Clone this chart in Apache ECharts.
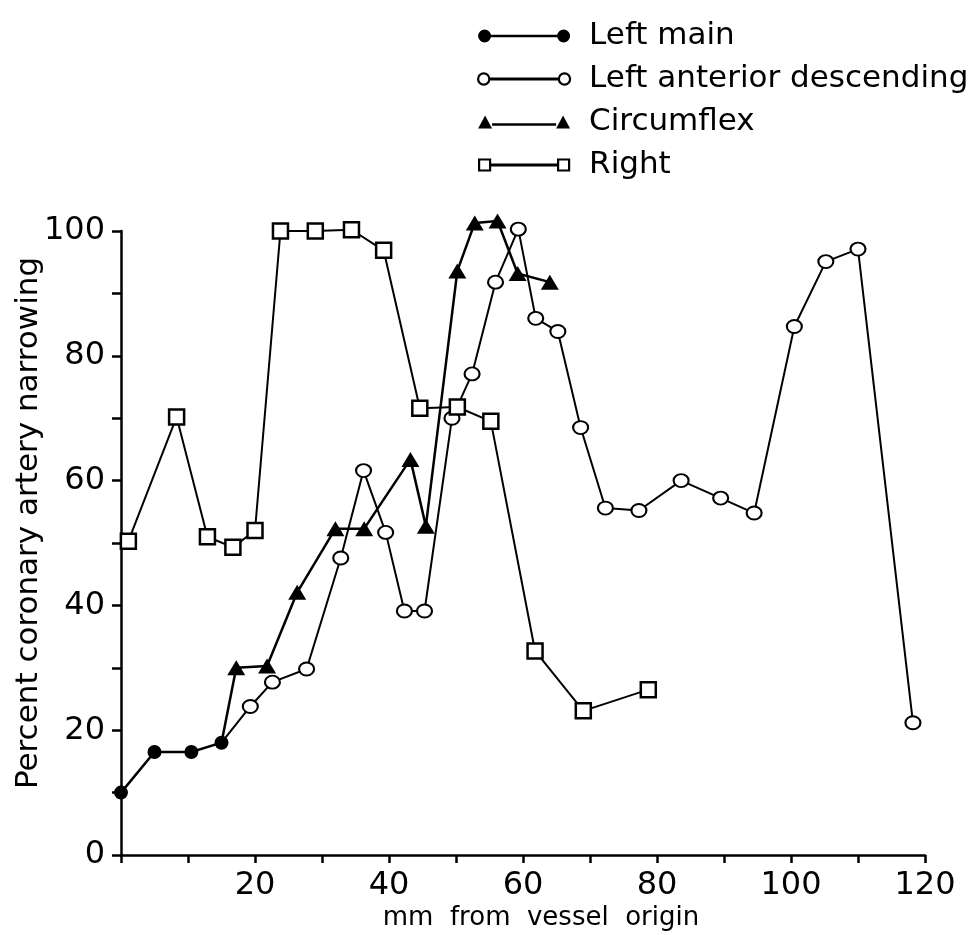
<!DOCTYPE html>
<html>
<head>
<meta charset="utf-8">
<script src="https://cdn.jsdelivr.net/npm/echarts@6/dist/echarts.min.js"></script>
<style>
html,body{margin:0;padding:0;background:#fff;}
#chart{width:972px;height:935px;}
</style>
</head>
<body>
<div id="chart"></div>
<script>
// ---- data ----
const seriesNames = ['Left main', 'Left anterior descending', 'Circumflex', 'Right'];

const leftMainX = [0, 5, 10.5, 15];
const leftMainY = [10, 16.5, 16.5, 18];

const ladX = [19.3, 22.6, 27.7, 32.8, 36.2, 39.5, 42.3, 45.3, 49.4, 52.4, 55.9, 59.3, 61.9, 65.2, 68.6, 72.3, 77.3, 83.6, 89.5, 94.5, 100.5, 105.2, 110, 118.2];
const ladY = [23.8, 27.7, 29.8, 47.6, 61.6, 51.7, 39.1, 39.1, 70, 77.1, 91.8, 100.3, 86, 83.9, 68.5, 55.6, 55.2, 60, 57.2, 54.8, 84.7, 95.1, 97.1, 21.2];

const circX = [17.2, 21.8, 26.3, 32, 36.3, 43.2, 45.5, 50.2, 52.8, 56.2, 59.2, 64];
const circY = [30, 30.3, 42.1, 52.3, 52.3, 63.4, 52.7, 93.6, 101.3, 101.6, 93.2, 91.8];

const rightX = [1.1, 8.3, 12.9, 16.7, 20, 23.8, 29, 34.4, 39.2, 44.6, 50.2, 55.2, 61.8, 69, 78.7];
const rightY = [50.3, 70.2, 51, 49.3, 52, 100, 100, 100.2, 96.9, 71.6, 71.8, 69.5, 32.7, 23.1, 26.5];

const xTickLabels = [20, 40, 60, 80, 100, 120];
const yTickLabels = [0, 20, 40, 60, 80, 100];

// ---- helpers ----
function pairs(xs, ys) { return xs.map((x, i) => [x, ys[i]]); }
// LAD and circumflex branch off from the last left-main point
const branch = [leftMainX[leftMainX.length - 1], leftMainY[leftMainY.length - 1]];
function withBranch(xs, ys) {
  return [{ value: branch, symbol: 'none' }].concat(pairs(xs, ys));
}

const FONT = 'DejaVu Sans, Liberation Sans, Arial, sans-serif';
const chart = echarts.init(document.getElementById('chart'), null, { renderer: 'canvas' });

const iconCircle = 'path://M0,6.5a6.5,6.5 0 1,0 13,0a6.5,6.5 0 1,0 -13,0Z M79,6.5a6.5,6.5 0 1,0 13,0a6.5,6.5 0 1,0 -13,0Z M13,5.3L79,5.3L79,7.7L13,7.7Z';
const iconOpen = 'path://M1,6.5a5.5,5.5 0 1,0 11,0a5.5,5.5 0 1,0 -11,0Z M80,6.5a5.5,5.5 0 1,0 11,0a5.5,5.5 0 1,0 -11,0Z M12,6.2L80,6.2L80,6.8L12,6.8Z';
const iconTri = 'path://M0,13L7,0L14,13Z M78,13L85,0L92,13Z M14,7.8L78,7.8L78,10.2L14,10.2Z';
const iconSq = 'path://M1,1L12,1L12,12L1,12Z M80,1L91,1L91,12L80,12Z M12,6.2L80,6.2L80,6.8L12,6.8Z M0,0L0,0 M92,13L92,13';

const option = {
  backgroundColor: '#fff',
  animation: false,
  textStyle: { fontFamily: FONT, color: '#000' },
  legend: {
    orient: 'vertical',
    left: 472,
    top: 14,
    itemWidth: 92,
    itemHeight: 13,
    itemGap: 9,
    textStyle: { fontFamily: FONT, fontSize: 31, color: '#000', lineHeight: 34, padding: [0, 0, 0, 14] },
    data: [
      { name: seriesNames[0], icon: iconCircle, itemStyle: { color: '#000', borderWidth: 0 } },
      { name: seriesNames[1], icon: iconOpen, itemStyle: { color: '#fff', borderColor: '#000', borderWidth: 2.2 } },
      { name: seriesNames[2], icon: iconTri, itemStyle: { color: '#000', borderWidth: 0 } },
      { name: seriesNames[3], icon: iconSq, itemStyle: { color: '#fff', borderColor: '#000', borderWidth: 2.2 } }
    ]
  },
  grid: { left: 121, right: 47, top: 231, bottom: 80, containLabel: false, outerBoundsMode: 'none' },
  xAxis: {
    type: 'value', min: 0, max: 120, interval: 10,
    name: 'mm  from  vessel  origin',
    nameLocation: 'middle', nameGap: 50, nameMoveOverlap: false,
    nameTextStyle: { fontFamily: FONT, fontSize: 26, color: '#000', padding: [0, 0, 0, 36] },
    axisLine: { lineStyle: { color: '#000', width: 2.5 } },
    axisTick: { inside: false, length: 8, lineStyle: { color: '#000', width: 2.5 } },
    axisLabel: {
      fontFamily: FONT, fontSize: 32, color: '#000', margin: 15,
      formatter: v => (xTickLabels.indexOf(v) >= 0 ? String(v) : '')
    },
    splitLine: { show: false }
  },
  yAxis: {
    type: 'value', min: 0, max: 100, interval: 10,
    name: 'Percent coronary artery narrowing',
    nameLocation: 'middle', nameGap: 77, nameRotate: 90, nameMoveOverlap: false,
    nameTextStyle: { fontFamily: FONT, fontSize: 31, color: '#000', padding: [0, 0, 0, 40] },
    axisLine: { lineStyle: { color: '#000', width: 2.5 } },
    axisTick: { inside: false, length: 9, lineStyle: { color: '#000', width: 2.5 } },
    axisLabel: {
      fontFamily: FONT, fontSize: 32, color: '#000', margin: 16,
      formatter: v => (yTickLabels.indexOf(v) >= 0 ? String(v) : '')
    },
    splitLine: { show: false }
  },
  series: [
    {
      name: seriesNames[1], type: 'line', clip: false, z: 3,
      data: withBranch(ladX, ladY),
      symbol: 'circle', symbolSize: [15, 13],
      lineStyle: { color: '#000', width: 2 },
      itemStyle: { color: '#fff', borderColor: '#000', borderWidth: 2 }
    },
    {
      name: seriesNames[2], type: 'line', clip: false, z: 4,
      data: withBranch(circX, circY),
      symbol: 'triangle', symbolSize: [18, 15],
      lineStyle: { color: '#000', width: 2.5 },
      itemStyle: { color: '#000', borderColor: '#000', borderWidth: 0 }
    },
    {
      name: seriesNames[3], type: 'line', clip: false, z: 5,
      data: pairs(rightX, rightY),
      symbol: 'rect', symbolSize: 15,
      lineStyle: { color: '#000', width: 2 },
      itemStyle: { color: '#fff', borderColor: '#000', borderWidth: 2.5 }
    },
    {
      name: seriesNames[0], type: 'line', clip: false, z: 6,
      data: pairs(leftMainX, leftMainY),
      symbol: 'circle', symbolSize: 14,
      lineStyle: { color: '#000', width: 2.5 },
      itemStyle: { color: '#000', borderWidth: 0 }
    }
  ]
};
chart.setOption(option);
</script>
</body>
</html>
